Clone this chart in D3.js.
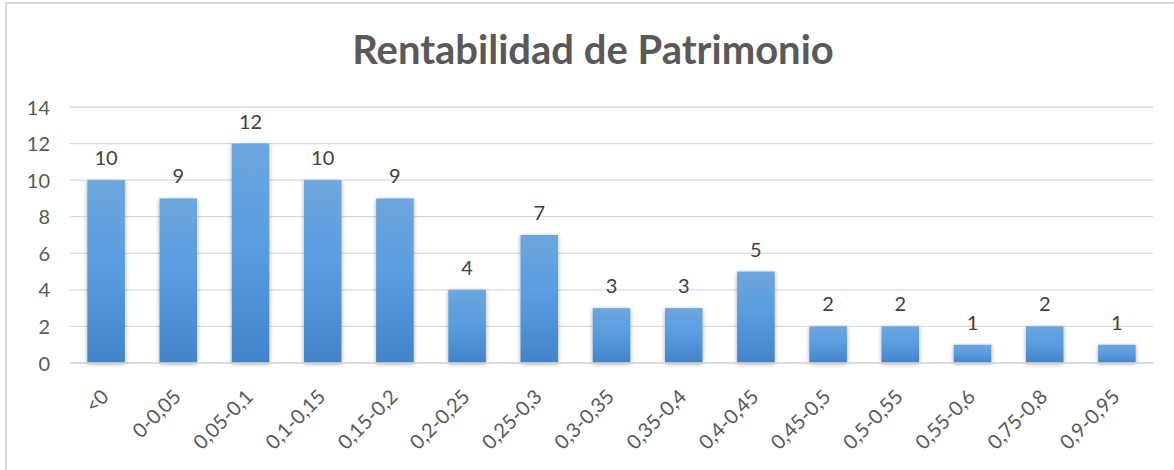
<!DOCTYPE html>
<html>
<head>
<meta charset="utf-8">
<script src="https://cdn.jsdelivr.net/npm/d3@7"></script>
<style>
  html, body { margin: 0; padding: 0; background: #fff; }
  svg { display: block; }
</style>
</head>
<body>
<div id="chart"></div>
<script>
// Distribution of companies by return on equity range
const categories = ["<0", "0-0,05", "0,05-0,1", "0,1-0,15", "0,15-0,2", "0,2-0,25", "0,25-0,3",
  "0,3-0,35", "0,35-0,4", "0,4-0,45", "0,45-0,5", "0,5-0,55", "0,55-0,6", "0,75-0,8", "0,9-0,95"];
const counts = [10, 9, 12, 10, 9, 4, 7, 3, 3, 5, 2, 2, 1, 2, 1];
const yTicks = [0, 2, 4, 6, 8, 10, 12, 14];
const title = "Rentabilidad de Patrimonio";

const W = 1174, H = 470;
const plot = { left: 70, right: 1153, top: 107, bottom: 363 };
const font = "Lato, 'Open Sans', sans-serif";

const svg = d3.select("#chart").append("svg")
  .attr("width", W).attr("height", H);

const defs = svg.append("defs");
const grad = defs.append("linearGradient")
  .attr("id", "barFill").attr("x1", 0).attr("y1", 0).attr("x2", 0).attr("y2", 1);
grad.append("stop").attr("offset", "0%").attr("stop-color", "#6da6dd");
grad.append("stop").attr("offset", "45%").attr("stop-color", "#5a9de0");
grad.append("stop").attr("offset", "100%").attr("stop-color", "#4284c9");

const shadow = defs.append("filter").attr("id", "barShadow")
  .attr("x", "-30%").attr("y", "-10%").attr("width", "160%").attr("height", "125%");
shadow.append("feGaussianBlur").attr("in", "SourceAlpha").attr("stdDeviation", 2.2).attr("result", "b");
shadow.append("feOffset").attr("in", "b").attr("dx", 0).attr("dy", 1).attr("result", "o");
shadow.append("feComponentTransfer").attr("in", "o").attr("result", "s")
  .append("feFuncA").attr("type", "linear").attr("slope", 0.35);
const merge = shadow.append("feMerge");
merge.append("feMergeNode").attr("in", "s");
merge.append("feMergeNode").attr("in", "SourceGraphic");

// chart frame (top and left edges visible)
svg.append("path")
  .attr("d", `M6,${H} L6,3 L${W},3`)
  .attr("fill", "none").attr("stroke", "#d9d9d9").attr("stroke-width", 2);

const x = d3.scaleBand().domain(categories)
  .range([plot.left, plot.right]).paddingInner(0.48).paddingOuter(0.24);
const y = d3.scaleLinear().domain([0, 14]).range([plot.bottom, plot.top]);

// horizontal gridlines
svg.append("g")
  .selectAll("line").data(yTicks).join("line")
  .attr("x1", plot.left).attr("x2", plot.right)
  .attr("y1", d => y(d)).attr("y2", d => y(d))
  .attr("stroke", "#d9d9d9").attr("stroke-width", 1.3);

// y axis labels
const yAxis = d3.axisLeft(y).tickValues(yTicks).tickSize(0).tickPadding(0);
const yg = svg.append("g").attr("transform", `translate(${plot.left - 20},0)`).call(yAxis);
yg.select(".domain").remove();
yg.selectAll("text")
  .attr("font-family", font).attr("font-size", 20).attr("fill", "#595959")
  .attr("text-anchor", "end").attr("dy", "0.35em");

// bars
svg.append("g").selectAll("rect").data(counts).join("rect")
  .attr("x", (d, i) => x(categories[i]))
  .attr("y", d => y(d))
  .attr("width", x.bandwidth())
  .attr("height", d => y(0) - y(d))
  .attr("fill", "url(#barFill)")
  .attr("filter", "url(#barShadow)");

// baseline
svg.append("line")
  .attr("x1", plot.left).attr("x2", plot.right)
  .attr("y1", y(0)).attr("y2", y(0))
  .attr("stroke", "#d9d9d9").attr("stroke-width", 1.5);

// value labels
svg.append("g").selectAll("text").data(counts).join("text")
  .attr("x", (d, i) => x(categories[i]) + x.bandwidth() / 2)
  .attr("y", d => y(d) - 15)
  .attr("text-anchor", "middle")
  .attr("font-family", font).attr("font-size", 20).attr("fill", "#404040")
  .text(d => d);

// category labels, rotated
const xAxis = d3.axisBottom(x).tickSize(0).tickPadding(0);
const xg = svg.append("g").attr("transform", `translate(0,${plot.bottom})`).call(xAxis);
xg.select(".domain").remove();
xg.selectAll("text")
  .attr("font-family", font).attr("font-size", 20).attr("fill", "#595959")
  .attr("text-anchor", "end")
  .attr("transform", "translate(-1,30) rotate(-45)")
  .attr("dy", "0.35em").attr("y", 0);

// title
svg.append("text")
  .attr("x", 593).attr("y", 64)
  .attr("text-anchor", "middle")
  .attr("font-family", font).attr("font-weight", "bold")
  .attr("font-size", 40).attr("fill", "#595959")
  .text(title);
</script>
</body>
</html>
